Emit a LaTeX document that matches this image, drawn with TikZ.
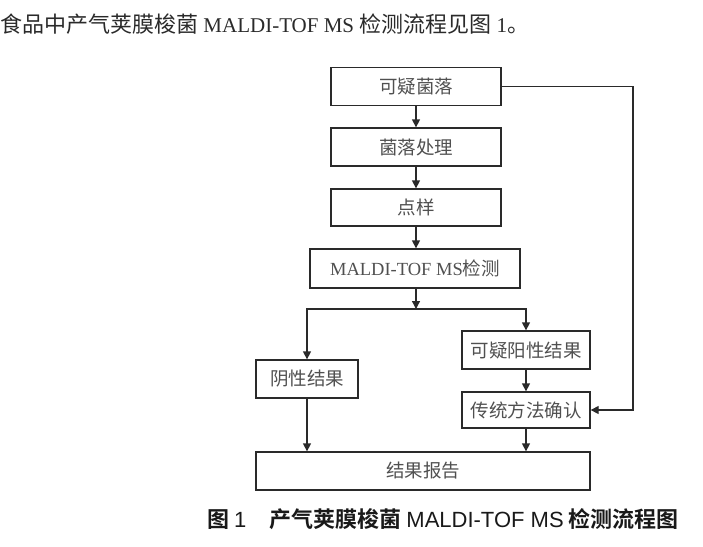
\documentclass[tikz,border=0pt]{standalone}
\usepackage{fontspec}
\setmainfont{Liberation Serif}
\setsansfont{Liberation Sans}
\newfontfamily\cjk{Noto Sans CJK SC}
\newfontfamily\cjkbold{Noto Sans CJK SC Bold}
\usetikzlibrary{arrows.meta,positioning}
\definecolor{linegray}{HTML}{2A2A2A}
\definecolor{textgray}{HTML}{505050}
\definecolor{introgray}{HTML}{2A2A2A}
\newcommand{\zh}[1]{{\cjk #1}}
\newcommand{\zhbig}[1]{{\fontsize{22}{24}\selectfont\cjk #1}}

\tikzset{
  flowbox/.style={draw=linegray,line width=1.3pt,inner sep=0pt,minimum height=38pt,text=textgray,font=\fontsize{18.5}{20}\selectfont},
  flowline/.style={draw=linegray,line width=1.3pt},
  flowarrow/.style={flowline,-{Triangle[length=8pt,width=8pt]}}
}

\begin{document}
\begin{tikzpicture}[x=1pt,y=-1pt]
        \useasboundingbox (0,0) rectangle (703,546);

        % intro line
        \node[anchor=base west,inner sep=0pt,text=introgray,font=\fontsize{21}{24}\selectfont] (intro) at (0,32)
            {\zhbig{食品中产气荚膜梭菌} MALDI-TOF MS \zhbig{检测流程见图} 1\zhbig{。}};

        % main column
        \node[flowbox,minimum width=170pt] (suspect) at (416,86.5) {\zh{可疑菌落}};
        \node[flowbox,minimum width=170pt] (treat) at (416,147) {\zh{菌落处理}};
        \node[flowbox,minimum width=170pt,minimum height=37pt] (spot) at (416,207.5) {\zh{点样}};
        \node[flowbox,minimum width=210pt,minimum height=39pt] (maldi) at (415,268.5) {MALDI-TOF MS\zh{检测}};

        % results
        \node[flowbox,minimum width=102pt] (negative) at (307,379) {\zh{阴性结果}};
        \node[flowbox,minimum width=128pt] (positive) at (526,350) {\zh{可疑阳性结果}};
        \node[flowbox,minimum width=128pt,minimum height=36pt] (confirm) at (526,410) {\zh{传统方法确认}};
        \node[flowbox,minimum width=334pt] (report) at (423,471) {\zh{结果报告}};
        \coordinate (split) at (416,309);
        \coordinate (bypass) at (633,0);

        % connectors
        \draw[flowarrow] (suspect) -- (treat);
        \draw[flowarrow] (treat) -- (spot);
        \draw[flowarrow] (spot) -- (spot |- maldi.north);
        \draw[flowarrow] (maldi.south -| split) -- (split);
        \draw[flowarrow] (split) -| (negative);
        \draw[flowarrow] (split) -| (positive);
        \draw[flowarrow] (positive) -- (confirm);
        \draw[flowarrow] (negative) -- (report.north -| negative);
        \draw[flowarrow] (confirm) -- (report.north -| confirm);
        \draw[flowarrow] (suspect.east) -- (bypass |- suspect.east) -- (bypass |- confirm.east) -- (confirm.east);

        % caption
        \node[anchor=base west,inner sep=0pt,text=black!90,font=\fontsize{22}{24}\selectfont\cjkbold] (caption) at (207,527)
            {图 {\sffamily 1}\hspace{23pt}产气荚膜梭菌 {\sffamily MALDI-TOF MS} 检测流程图};
\end{tikzpicture}
\end{document}
